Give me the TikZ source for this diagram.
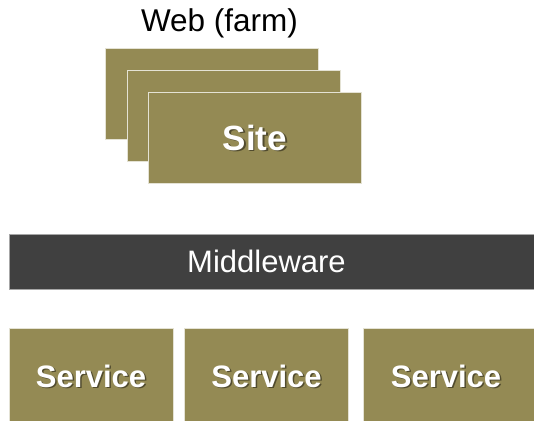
\documentclass[tikz,border=0pt]{standalone}
\usepackage{fontspec}
\setmainfont{Liberation Sans}

\definecolor{olivebox}{HTML}{948A54}
\definecolor{darkbar}{HTML}{404040}

\begin{document}
\begin{tikzpicture}[x=1pt,y=-1pt]
  \tikzstyle{tilebox}=[fill=olivebox, draw=white!75!olivebox, line width=0.8pt,
                       inner sep=0pt, minimum width=213pt, minimum height=91pt]
  \tikzstyle{servbox}=[tilebox, minimum width=164pt, minimum height=96pt]
  \tikzstyle{barbox}=[fill=darkbar, draw=gray!70, line width=0.8pt,
                      inner sep=0pt, minimum width=540pt, minimum height=55pt]
  \tikzstyle{boldtxt}=[text=white, font=\bfseries\fontsize{31}{37}\selectfont]
  \tikzstyle{shadetxt}=[boldtxt, text=black, opacity=0.45]

  \clip (0,0) rectangle (534,420);

  % stacked web sites
  \node[tilebox] (Back) at (212,93.5) {};
  \node[tilebox] (Mid) at (233.5,116) {};
  \node[tilebox] (Site) at (255,137.5) {};
  \node[font=\fontsize{31.5}{38}\selectfont] (Farm) at (219.5,23) {Web (farm)};
  \node[shadetxt, font=\bfseries\fontsize{35}{42}\selectfont] at ([shift={(1.5,1.5)}]Site) {Site};
  \node[boldtxt, font=\bfseries\fontsize{35}{42}\selectfont] at (Site) {Site};

  % middleware bar
  \node[barbox] (Middleware) at (279,261.5) {};
  \node[text=white, font=\fontsize{31}{37}\selectfont] at ([xshift=-12.5pt]Middleware) {Middleware};

  % services
  \node[servbox] (ServiceA) at (91,376) {};
  \node[servbox] (ServiceB) at (266.5,376) {};
  \node[servbox, minimum width=180pt] (ServiceC) at (453,376) {};
  \foreach \s in {ServiceA, ServiceB} {
    \node[shadetxt] at ([shift={(1.5,1.5)}]\s) {Service};
    \node[boldtxt] at (\s) {Service};
  }
  \node[shadetxt] at ([shift={(-5.5,1.5)}]ServiceC) {Service};
  \node[boldtxt] at ([xshift=-7pt]ServiceC) {Service};

\end{tikzpicture}
\end{document}
